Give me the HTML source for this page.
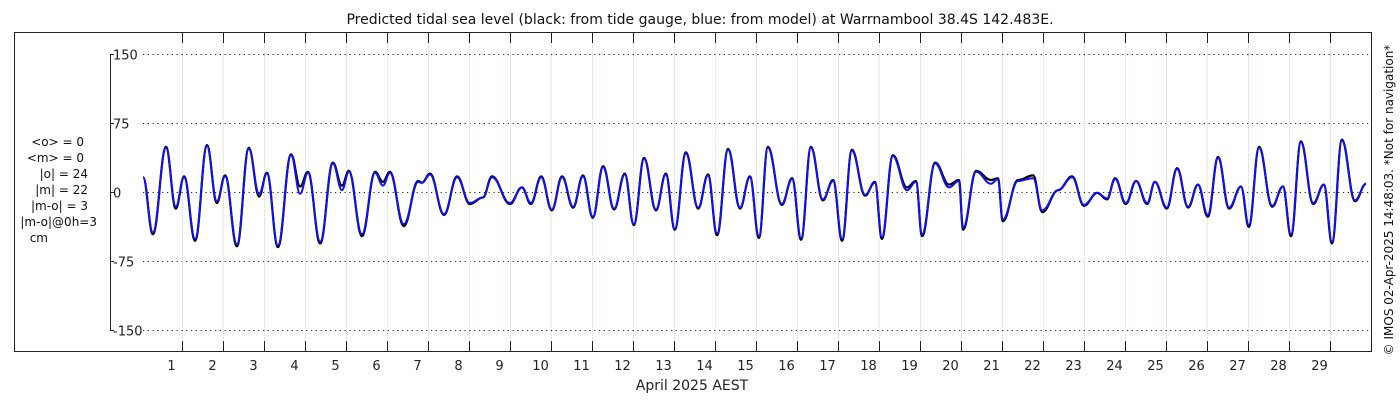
<!DOCTYPE html>
<html><head><meta charset="utf-8"><style>
html,body{margin:0;padding:0;background:#fff;}
svg{display:block;font-family:"DejaVu Sans","Liberation Sans",sans-serif;}
</style></head><body>
<svg id="chart" width="1400" height="400" viewBox="0 0 1400 400" xmlns="http://www.w3.org/2000/svg">
<rect x="0" y="0" width="1400" height="400" fill="#fff"/>
<text x="700" y="24" text-anchor="middle" font-size="14" fill="#111">Predicted tidal sea level (black: from tide gauge, blue: from model) at Warrnambool 38.4S 142.483E.</text>
<rect x="14.5" y="32.5" width="1357" height="319" fill="none" stroke="#222" stroke-width="1"/>
<g id="grid"></g>
<g id="axes"></g>
<g id="series"></g>
<g font-size="12" fill="#111" text-anchor="end">
<text x="84" y="146">&lt;o&gt; = 0</text>
<text x="84" y="162">&lt;m&gt; = 0</text>
<text x="88" y="178">|o| = 24</text>
<text x="88" y="194">|m| = 22</text>
<text x="88" y="210">|m-o| = 3</text>
<text x="97" y="226">|m-o|@0h=3</text>
<text x="48" y="242">cm</text>
</g>
<text x="692" y="390" text-anchor="middle" font-size="14" fill="#222">April 2025 AEST</text>
<text transform="translate(1393,200) rotate(-90)" text-anchor="middle" font-size="12" fill="#111">© IMOS 02-Apr-2025 14:48:03. *Not for navigation*</text>
</svg>
<script>
const yTicks = [150, 75, 0, -75, -150];
const dayLabels = [1,2,3,4,5,6,7,8,9,10,11,12,13,14,15,16,17,18,19,20,21,22,23,24,25,26,27,28,29];
const times = [0.05,0.29,0.61,0.85,1.05,1.32,1.61,1.85,2.05,2.34,2.63,2.88,3.07,3.34,3.66,3.88,4.07,4.37,4.68,4.90,5.07,5.39,5.71,5.90,6.07,6.41,6.76,6.85,7.05,7.39,7.71,8.02,8.34,8.56,9.00,9.29,9.51,9.76,10.02,10.27,10.54,10.78,11.02,11.27,11.54,11.80,12.02,12.27,12.56,12.80,13.02,13.29,13.59,13.83,14.05,14.32,14.61,14.85,15.07,15.29,15.63,15.88,16.10,16.34,16.63,16.88,17.10,17.34,17.66,17.90,18.07,18.34,18.68,18.90,19.05,19.37,19.71,19.95,20.05,20.37,20.73,20.90,21.02,21.39,21.76,21.98,22.37,22.71,23.00,23.32,23.56,23.76,24.02,24.27,24.54,24.73,25.02,25.27,25.54,25.78,26.02,26.27,26.54,26.83,27.02,27.27,27.59,27.85,28.05,28.29,28.59,28.85,29.05,29.29,29.61,29.88,30.0];
const observed = [16,-46,49,-18,17,-53,51,-12,18,-59,48,-5,21,-60,41,6,22,-56,32,7,23,-48,22,11,22,-37,12,10,20,-25,17,-13,-6,17,-13,5,-13,17,-20,17,-17,18,-28,28,-19,20,-36,37,-20,20,-41,43,-18,19,-47,47,-18,17,-50,49,-14,15,-52,49,-9,13,-53,46,-4,11,-51,40,5,12,-48,32,8,13,-41,23,13,15,-32,13,18,-22,2,17,-15,-1,-8,15,-13,12,-13,11,-18,26,-17,8,-27,38,-18,6,-38,49,-16,6,-48,55,-13,8,-56,57,-10,9];
const modelled = [16,-44,48,-16,16,-51,50,-10,17,-57,47,-2,20,-58,40,-2,21,-54,31,2,22,-46,21,7,21,-35,11,10,19,-24,16,-12,-6,16,-12,5,-12,16,-19,16,-16,17,-27,27,-18,19,-35,36,-19,19,-40,42,-17,18,-45,46,-17,16,-48,48,-13,14,-50,48,-8,12,-51,45,-3,10,-49,39,2,11,-46,31,5,12,-39,22,9,14,-30,12,15,-20,2,16,-14,-1,-7,14,-12,12,-12,11,-17,25,-16,8,-25,37,-17,6,-36,48,-15,6,-46,54,-12,8,-54,56,-9,9];

const NS='http://www.w3.org/2000/svg';
const X0=141, DAYW=41, Y0=192, YS=0.92;
function xScale(d){return X0 + d*DAYW;}
function yScale(v){return Y0 - v*YS;}
function mk(tag, attrs, parent){const e=document.createElementNS(NS,tag);for(const k in attrs)e.setAttribute(k,attrs[k]);parent.appendChild(e);return e;}
const grid=document.getElementById('grid'), axes=document.getElementById('axes'), series=document.getElementById('series');

const ya=mk('line',{x1:110.5,x2:110.5,y1:yScale(150),y2:yScale(-150),stroke:'#222'},axes);


yTicks.forEach(v=>{
  const y=Math.round(yScale(v))+0.5;
  const g=mk('line',{x1:143,x2:1371,y1:y,y2:y,stroke:'#222','stroke-dasharray':'1.2,3.6'},grid);
  
  
  const t=mk('line',{x1:110,x2:114,y1:y,y2:y,stroke:'#222'},axes);
  
  
  const l=mk('text',{x:113,y:y+5,'font-size':13,fill:'#222'},axes);
  l.textContent=String(v);
  
  
});
dayLabels.forEach((d,i)=>{
  const x=Math.round(xScale(d))+0.5;
  const gl=mk('line',{x1:x,x2:x,y1:33,y2:351,stroke:(i%2?'#f0d8c0':'#c8d4f0'),'stroke-dasharray':'1,1'},grid);
  
  
  const tb=mk('line',{x1:x,x2:x,y1:341,y2:351,stroke:'#222'},axes);
  
  
  const tt=mk('line',{x1:x,x2:x,y1:33,y2:43,stroke:'#222'},axes);
  
  
  const l=mk('text',{x:x-11,y:370,'font-size':13,fill:'#222','text-anchor':'middle'},axes);
  l.textContent=String(d);
  
  
});
function pathFor(vals){
  let d='M'+xScale(times[0]).toFixed(1)+','+yScale(vals[0]).toFixed(1);
  for(let i=1;i<times.length;i++){
    const x0=xScale(times[i-1]),x1=xScale(times[i]),y0=yScale(vals[i-1]),y1=yScale(vals[i]);
    const m=(x1-x0)*0.4;
    d+=' C'+(x0+m).toFixed(1)+','+y0.toFixed(1)+' '+(x1-m).toFixed(1)+','+y1.toFixed(1)+' '+x1.toFixed(1)+','+y1.toFixed(1);
  }
  return d;
}
const po=mk('path',{d:pathFor(observed),fill:'none',stroke:'#000','stroke-width':2.2},series);


const pm=mk('path',{d:pathFor(modelled),fill:'none',stroke:'#1010f0','stroke-width':2},series);


</script>
</body></html>
